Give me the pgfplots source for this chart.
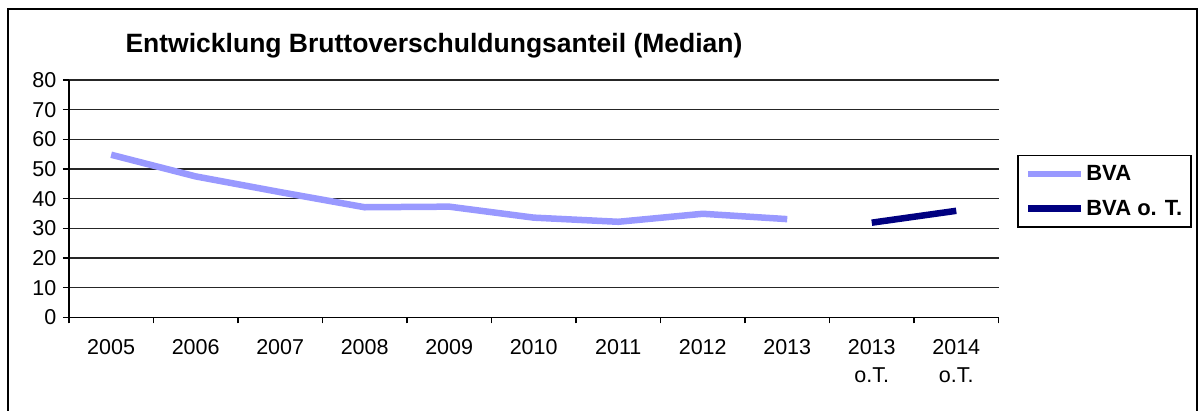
\documentclass[border=0pt]{standalone}
\usepackage{fontspec}
\setmainfont{Liberation Sans}
\usepackage{pgfplots}
\pgfplotsset{compat=1.18}
\definecolor{bvalight}{HTML}{9999FF}
\definecolor{bvadark}{HTML}{000080}
\begin{document}
\begin{tikzpicture}[x=1bp,y=1bp]
\useasboundingbox (0,0) rectangle (1198,410);
\draw[line width=1.5bp,black] (8,-5) -- (8,401) -- (1197,401) -- (1197,-5);
\node[anchor=base,font=\fontsize{26.5bp}{30bp}\selectfont\bfseries] at (434,358) {Entwicklung Bruttoverschuldungsanteil (Median)};
\begin{axis}[
  at={(68.9bp,92.7bp)}, anchor=south west,
  scale only axis, width=929.6bp, height=237.3bp,
  xmin=0, xmax=11, ymin=0, ymax=80,
  axis x line=bottom, axis y line=left,
  axis line style={-, line width=1.5bp, black},
  xtick={0,...,11},
  x tick label as interval,
  xticklabels={2005,2006,2007,2008,2009,2010,2011,2012,2013,{2013\\o.T.},{2014\\o.T.}},
  xticklabel style={align=center, font=\fontsize{21.5bp}{28bp}\selectfont, yshift=-13bp},
  ytick={0,10,...,80},
  yticklabels={0,10,20,30,40,50,60,70,80},
  yticklabel style={font=\fontsize{21.5bp}{26bp}\selectfont, xshift=-3bp},
  tick align=outside,
  major tick length=6bp,
  tick style={line width=1.5bp, black},
  ymajorgrids,
  major grid style={line width=1.3bp, black!85},
  legend style={at={(1.02,0.684)}, anchor=north west, draw=black, line width=1.5bp,
    font=\fontsize{22bp}{26bp}\selectfont\bfseries, inner xsep=7bp, inner ysep=8bp,
    row sep=14bp},
  legend cell align=left,
  legend image code/.code={\draw[#1] (0bp,0bp) -- (53bp,0bp);},
  clip=false,
]
\addplot[color=bvalight, line width=6.5bp] coordinates {
  (0.5,54.8) (1.5,47.5) (2.5,42.2) (3.5,37.1) (4.5,37.3) (5.5,33.6) (6.5,32.2) (7.5,34.9) (8.5,33.1)
};
\addlegendentry{BVA}
\addplot[color=bvadark, line width=6.5bp] coordinates {
  (9.5,31.9) (10.5,35.9)
};
\addlegendentry{BVA o. T.}
\end{axis}
\end{tikzpicture}
\end{document}
